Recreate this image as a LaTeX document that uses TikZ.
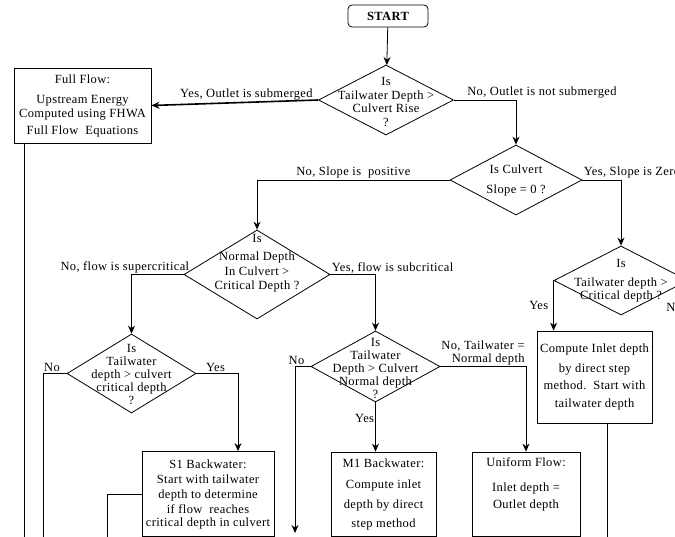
\documentclass[tikz,border=0pt]{standalone}
\usepackage{fontspec}
\setmainfont[LetterSpace=3]{Liberation Serif}
\usetikzlibrary{shapes.geometric,arrows.meta,positioning}

\begin{document}
\begin{tikzpicture}
[
    x=1pt, y=-1pt, line width=0.8pt,
    every node/.style={font=\fontsize{12.5}{13}\selectfont},
    terminal/.style={draw, rounded corners=4pt, inner sep=0pt, font=\fontsize{12.5}{13}\selectfont\bfseries},
    decision/.style={draw, diamond, inner sep=0pt},
    dtext/.style={align=center, inner sep=0pt},
    process/.style={draw, align=center, inner sep=0pt},
    edge label/.style={inner sep=1pt},
    flow arrow/.style={-{Stealth[length=8pt, width=7pt]}},
]
\useasboundingbox (0,0) rectangle (675,537);
\clip (0,0) rectangle (675,537);

\node [terminal, minimum width=80, minimum height=22] (start) at (388,16) {START};

\node [decision, minimum width=135, minimum height=70,
    label={[dtext, yshift=-2pt]center:{Is\\[1pt]Tailwater Depth >\\Culvert Rise\\[1pt]?}}]
    (tw rise) at (386,100) {};
\node [process, minimum width=137, minimum height=75] (full flow) at (82.5,105.5)
    {Full Flow:\\[7pt]Upstream Energy\\[1pt]Computed using FHWA\\[4pt]Full Flow\ \ Equations};
\node [decision, minimum width=132, minimum height=70,
    label={[dtext]center:{Is Culvert\\[7pt]Slope = 0 ?}}]
    (slope) at (516,180) {};
\node [decision, minimum width=146, minimum height=89,
    label={[dtext, yshift=11pt]center:{Is\\[5pt]Normal Depth\\[2pt]In Culvert >\\[1pt]Critical Depth ?}}]
    (normal) at (257,274.5) {};
\node [decision, minimum width=134, minimum height=69,
    label={[dtext]center:{Is\\[6pt]Tailwater depth >\\Critical depth ?}}]
    (tw crit zero) at (621,280.5) {};
\node [decision, minimum width=129, minimum height=79,
    label={[dtext, yshift=-1pt]center:{Is\\Tailwater\\depth > culvert\\critical depth\\?}}]
    (tw crit) at (131.5,373.5) {};
\node [decision, minimum width=129, minimum height=71,
    label={[dtext, yshift=-2pt]center:{Is\\Tailwater\\Depth > Culvert\\Normal depth\\?}}]
    (tw normal) at (375.5,366.5) {};

\node [process, minimum width=115, minimum height=92] (direct step) at (594.5,377)
    {Compute Inlet depth\\[7pt]by direct step\\[4pt]method.\ \ Start with\\[5pt]tailwater depth};
\node [process, minimum width=132, minimum height=85] (s1) at (208,494)
    {S1 Backwater:\\[2pt]Start with tailwater\\[2pt]depth to determine\\[2pt]if flow\ \ reaches\\critical depth in culvert};
\node [process, minimum width=105, minimum height=84] (m1) at (383.5,494)
    {M1 Backwater:\\[8pt]Compute inlet\\[7pt]depth by direct\\[6pt]step method};
\node [process, minimum width=108, minimum height=84] (uniform) at (526,494)
    {Uniform Flow:\\[12pt]Inlet depth =\\[4pt]Outlet depth\\[4pt]\strut};

\coordinate (full out) at (24,545);
\coordinate (crit out) at (43,545);
\coordinate (s1 out) at (107,545);
\coordinate (normal out) at (295,533);
\coordinate (step out) at (607,545);

\draw [flow arrow] (start) -- (tw rise);
\draw [flow arrow, line width=1.6pt] (tw rise.west) --
    node [edge label, above, pos=0.43] (yes sub) {Yes, Outlet is submerged} (full flow.east);
\draw [flow arrow] (tw rise.east) -|
    node [edge label, anchor=south west, pos=0, xshift=12pt] (no sub) {No, Outlet is not submerged} (slope.north);
\draw [flow arrow] (slope.west) -|
    node [edge label, above, pos=0.25] (no slope) {No, Slope is\ \ positive} (normal.north);
\draw [flow arrow] (slope.east) -|
    node [edge label, anchor=south west, pos=0] (yes slope) {Yes, Slope is Zero} (tw crit zero.north);
\draw [flow arrow] (normal.west) -|
    node [edge label, anchor=south east, pos=0, xshift=7pt] (no super) {No, flow is supercritical} (tw crit.north);
\draw [flow arrow] (normal.east) -|
    node [edge label, anchor=south west, pos=0] (yes sub crit) {Yes, flow is subcritical} (tw normal.north);
\draw [flow arrow] (tw crit.east) -|
    node [edge label, above, pos=0.23] (yes s1) {Yes} ([xshift=30pt]s1.north);
\draw (tw crit.west) -|
    node [edge label, above, pos=0.31] (no crit) {No} (crit out);
\draw [flow arrow] (tw normal.west) -|
    node [edge label, above, pos=0.45] (no normal) {No} (normal out);
\draw [flow arrow] (tw normal.east) -|
    node [edge label, anchor=south east, pos=0.5, align=right] (no uniform) {No, Tailwater =\\Normal depth} (uniform.north);
\draw [flow arrow] (tw normal.south) --
    node [edge label, anchor=east, pos=0.32] (yes m1) {Yes} (tw normal.south |- m1.north);
\draw [flow arrow] (tw crit zero.west) --
    node [edge label, anchor=east, pos=0.5, xshift=-4pt] (yes step) {Yes} (tw crit zero.west |- direct step.north);
\node [edge label, anchor=north east] (no step) at ([xshift=-5pt, yshift=-21pt]tw crit zero.east) {No};

\draw (full flow.south -| full out) -- (full out);
\draw (s1.west) -| (s1 out);
\draw (direct step.south -| step out) -- (step out);
\end{tikzpicture}
\end{document}
